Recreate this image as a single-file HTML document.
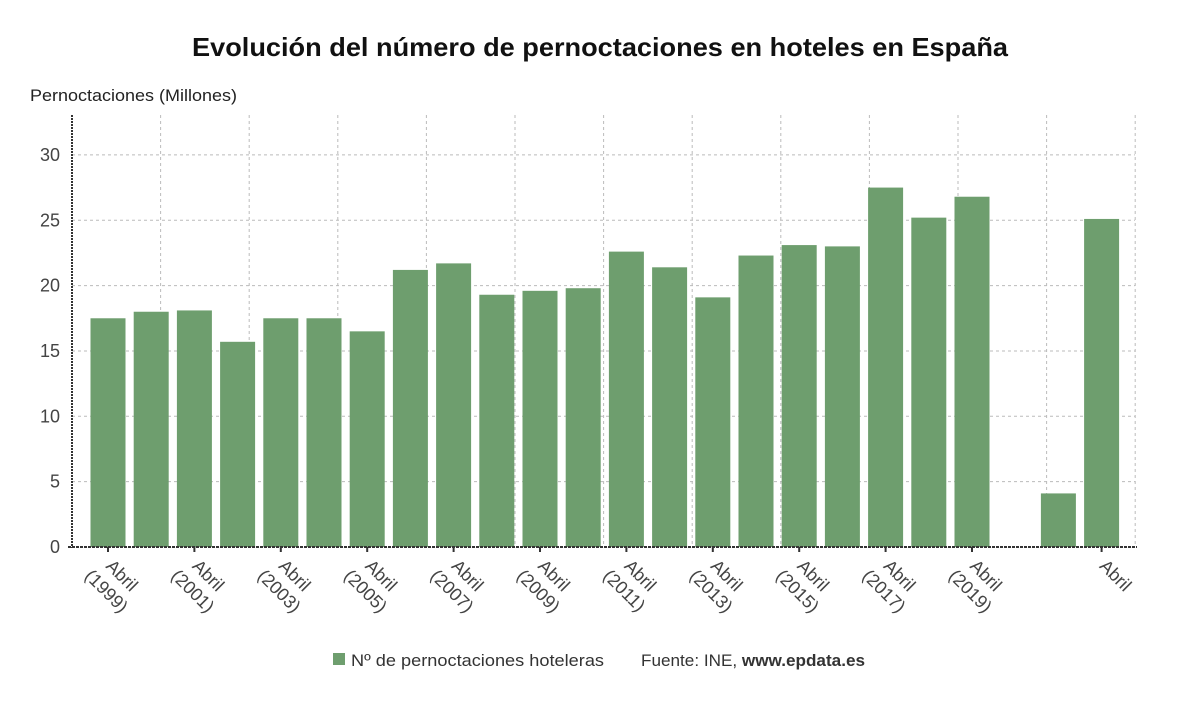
<!DOCTYPE html>
<html><head><meta charset="utf-8"><style>
body{margin:0;background:#fff;font-family:"Liberation Sans","DejaVu Sans",sans-serif}
</style></head><body>
<svg width="1200" height="705" xmlns="http://www.w3.org/2000/svg">
<text x="192" y="56" font-size="26" font-weight="bold" fill="#111" textLength="816" lengthAdjust="spacingAndGlyphs">Evolución del número de pernoctaciones en hoteles en España</text>
<text x="30" y="101" font-size="17" fill="#222" textLength="207" lengthAdjust="spacingAndGlyphs">Pernoctaciones (Millones)</text>
<g id="grid"></g>
<g id="bars"></g>
<g id="axes"></g>
<rect x="333" y="653" width="12" height="12" fill="#6e9e6e"/>
<text x="351" y="666" font-size="17" fill="#333" textLength="253" lengthAdjust="spacingAndGlyphs">Nº de pernoctaciones hoteleras</text>
<text x="641" y="666" font-size="17" fill="#333" textLength="224" lengthAdjust="spacingAndGlyphs">Fuente: INE, <tspan font-weight="bold">www.epdata.es</tspan></text>
</svg>
<script>
const categories=["1999","2000","2001","2002","2003","2004","2005","2006","2007","2008","2009","2010","2011","2012","2013","2014","2015","2016","2017","2018","2019","2020","2021","2022"];
const values=[17.5,18.0,18.1,15.7,17.5,17.5,16.5,21.2,21.7,19.3,19.6,19.8,22.6,21.4,19.1,22.3,23.1,23.0,27.5,25.2,26.8,0,4.1,25.1];
const yTicks=[0,5,10,15,20,25,30];
const tickLabels=["Abril\n(1999)","","Abril\n(2001)","","Abril\n(2003)","","Abril\n(2005)","","Abril\n(2007)","","Abril\n(2009)","","Abril\n(2011)","","Abril\n(2013)","","Abril\n(2015)","","Abril\n(2017)","","Abril\n(2019)","","","Abril"];
const NS="http://www.w3.org/2000/svg";
const y=v=>547-13.07*v;
const x=i=>108+43.2*i;
function mk(t,a,p){const e=document.createElementNS(NS,t);for(const k in a)e.setAttribute(k,a[k]);p.appendChild(e);return e;}
const grid=document.getElementById('grid'),bars=document.getElementById('bars'),axes=document.getElementById('axes');
yTicks.forEach(t=>{
 if(t>0){const l=mk('line',{x1:72,x2:1135,y1:y(t),y2:y(t),stroke:'#bbb','stroke-dasharray':'3,3'},grid);
 
 }
 const tx=mk('text',{x:60,y:y(t)+6,'text-anchor':'end','font-size':18,fill:'#444'},axes);tx.textContent=t;
 
 
});
for(let k=1;k<=12;k++){const gx=72+88.6*k;const l=mk('line',{x1:gx,x2:gx,y1:115,y2:547,stroke:'#bbb','stroke-dasharray':'3,3'},grid);
 
 }
values.forEach((v,i)=>{
 const r=mk('rect',{x:x(i)-17.5,y:y(v),width:35,height:547-y(v),fill:'#6e9e6e'},bars);
 
 
});
let l=mk('line',{x1:72,x2:72,y1:115,y2:548,stroke:'#333','stroke-width':2,'stroke-dasharray':'2,1'},axes);


l=mk('line',{x1:68,x2:1137,y1:547,y2:547,stroke:'#333','stroke-width':2,'stroke-dasharray':'3,1'},axes);


tickLabels.forEach((s,i)=>{
 if(!s)return;
 const tk=mk('line',{x1:x(i),x2:x(i),y1:547,y2:552,stroke:'#333','stroke-width':2},axes);
 
 
 const parts=s.split('\n');
 const t=mk('text',{transform:`translate(${x(i)-3},${567}) rotate(45)`,'font-size':18,fill:'#444'},axes);
 
 
 parts.forEach((p,j)=>{const ts=mk('tspan',{x:j?-8:0,dy:j?22:0},t);ts.textContent=p;});
});
</script>
</body></html>
